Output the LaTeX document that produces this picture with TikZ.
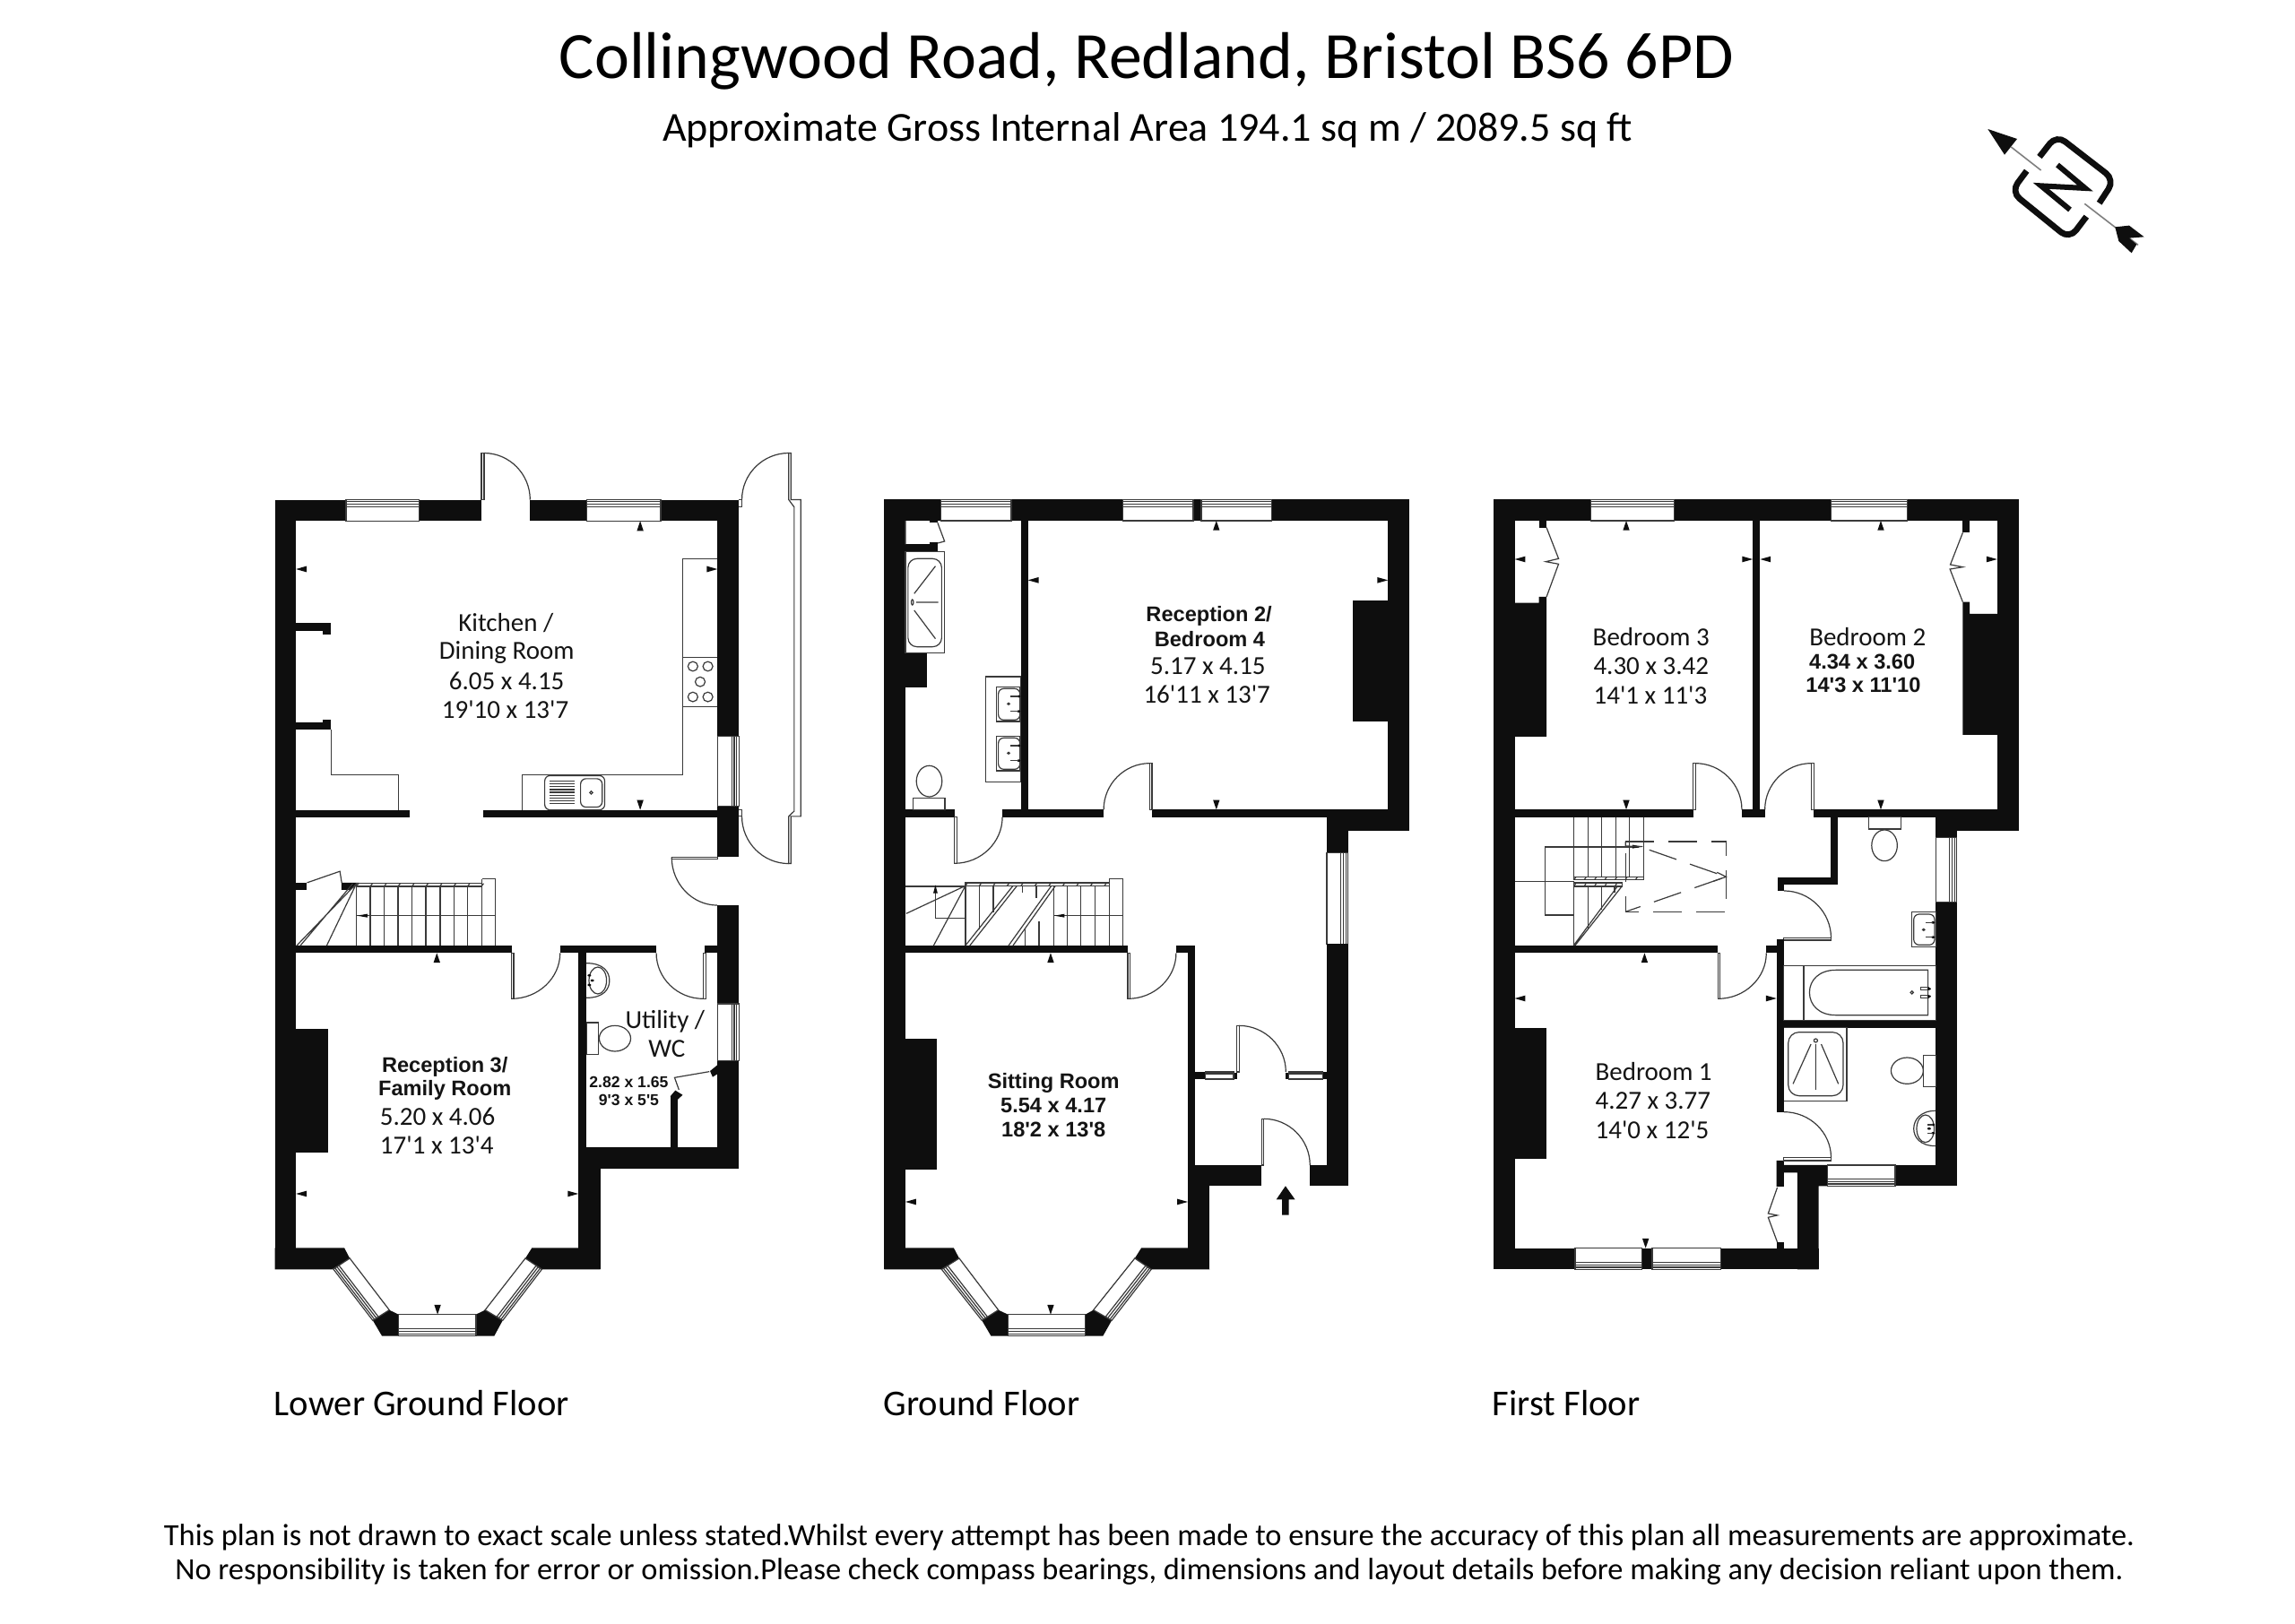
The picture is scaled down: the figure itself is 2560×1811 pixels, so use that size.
\documentclass[tikz,border=0pt]{standalone}
\usepackage{fontspec}
\usetikzlibrary{calc}
\newfontfamily\gillf{Carlito}
\newfontfamily\arialf{Liberation Sans}
\definecolor{walc}{HTML}{0E0E0E}
\definecolor{linec}{HTML}{3A3A3A}
\tikzset{
  wall/.style={fill=walc,draw=none},
  ln/.style={draw=linec,line width=.3pt},
  dsh/.style={draw=linec,line width=.3pt,dash pattern=on 8pt off 4pt},
  gilltext/.style={inner sep=0pt,font=\gillf\fontsize{7.25}{9}\selectfont,text=black!92},
  boldtext/.style={inner sep=0pt,font=\arialf\bfseries\fontsize{5.9}{7}\selectfont,text=black!92},
  smallbold/.style={inner sep=0pt,font=\arialf\bfseries\fontsize{4.4}{5}\selectfont,text=black!92},
  z1/.style={shift={(280,490)},xscale=.408,yscale=.3444},
  z2/.style={shift={(280,1000)},xscale=.408,yscale=.3333},
  z3/.style={shift={(970,540)},xscale=.408,yscale=.3333},
  z4/.style={shift={(970,1000)},xscale=.408,yscale=.3333},
  z5/.style={shift={(1650,540)},xscale=.408,yscale=.3333},
  z6/.style={shift={(1650,1000)},xscale=.408,yscale=.3333},
  z7/.style={shift={(2200,120)},scale=.3333}
}
\newcommand\wl[4]{\fill[wall] (#1,#2) rectangle (#3,#4);}
\newcommand\poly[1]{\fill[wall] #1 -- cycle;}
\newcommand\mU[2]{\fill[wall] (#1,#2) -- (#1-9,#2+32) -- (#1+9,#2+32) -- cycle;}
\newcommand\mD[2]{\fill[wall] (#1,#2) -- (#1-9,#2-32) -- (#1+9,#2-32) -- cycle;}
\newcommand\mL[2]{\fill[wall] (#1,#2) -- (#1+29,#2-10) -- (#1+29,#2+10) -- cycle;}
\newcommand\mR[2]{\fill[wall] (#1,#2) -- (#1-29,#2-10) -- (#1-29,#2+10) -- cycle;}
\newcommand\qarc[3]{\draw[ln] (#1) .. controls ($(#1)!0.55!(#2)$) and ($(#3)!0.55!(#2)$) .. (#3);}
\newcommand\winS[4]{\draw[ln] (#1) -- (#2) -- (#3) -- (#4) -- cycle;
  \draw[ln] ($(#1)!.66!(#4)$) -- ($(#2)!.66!(#3)$) -- ($(#2)!.90!(#3)$) -- ($(#1)!.90!(#4)$) -- cycle;
  \draw[ln] ($(#1)!.78!(#4)$) -- ($(#2)!.78!(#3)$);}
\newcommand\band[5]{\draw[ln] (#1,#3) rectangle (#2,#4);
  \foreach \q in {#1,#5,...,#2} {\draw[ln] (\q,#4) -- (\q+6,#3);}}
\newcommand\tp[2]{\fill[walc] (#1,#2) circle [x radius=5,y radius=4];}
\newcommand\gt[4]{\node[gilltext] (#1) at (#2,#3) {#4};}
\newcommand\bt[4]{\node[boldtext] (#1) at (#2,#3) {#4};}
\begin{document}
\begin{tikzpicture}[x=.25pt,y=-.25pt]
\fill[white] (0,0) rectangle (2560,1811);
\useasboundingbox (0,0) rectangle (2560,1811);

% ---- titles
\node[inner sep=0pt,font=\gillf\fontsize{18.45}{22}\selectfont] (title) at (1279,68) {Collingwood Road, Redland, Bristol BS6 6PD};
\node[inner sep=0pt,font=\gillf\fontsize{11.5}{14}\selectfont] (sub) at (1280,145) {Approximate Gross Internal Area 194.1 sq m / 2089.5 sq ft};
\node[inner sep=0pt,anchor=west,font=\gillf\fontsize{10.15}{13}\selectfont] (f1) at (305,1566) {Lower Ground Floor};
\node[inner sep=0pt,anchor=west,font=\gillf\fontsize{10.15}{13}\selectfont] (f2) at (985,1566) {Ground Floor};
\node[inner sep=0pt,anchor=west,font=\gillf\fontsize{10.15}{13}\selectfont] (f3) at (1664,1566) {First Floor};
\node[inner sep=0pt,font=\gillf\fontsize{8.59}{11}\selectfont] (d1) at (1282,1715) {This plan is not drawn to exact scale unless stated.Whilst every attempt has been made to ensure the accuracy of this plan all measurements are approximate.};
\node[inner sep=0pt,font=\gillf\fontsize{8.59}{11}\selectfont] (d2) at (1282,1754) {No responsibility is taken for error or omission.Please check compass bearings, dimensions and layout details before making any decision reliant upon them.};

% ---- compass
\begin{scope}[z7]
\draw[line width=1.7pt,draw=walc,rounded corners=3pt] (225,165) -- (282,92) -- (476,242) -- (425,320);
\draw[line width=1.7pt,draw=walc,rounded corners=3pt] (182,212) -- (130,282) -- (325,440) -- (382,365);
\draw[line width=1.5pt,draw=walc] (285,192) -- (378,270) -- (230,262) -- (327,342);
\draw[line width=.4pt,draw=gray] (130,132) -- (230,210);
\draw[line width=.4pt,draw=gray] (376,322) -- (555,460);
\fill[walc] (52,72) -- (150,105) -- (108,158) -- cycle;
\fill[walc] (478,400) -- (525,395) -- (575,433) -- (525,437) -- (550,458) -- (533,487) -- (490,447) -- cycle;
\end{scope}

% ================ LOWER GROUND, upper half
\begin{scope}[z1]
\wl{65}{196}{260}{265}\wl{460}{196}{630}{265}\wl{763}{196}{918}{265}\wl{1120}{196}{1334}{265}
\wl{65}{196}{123}{1568}
\wl{1275}{265}{1334}{963}\wl{1275}{1190}{1334}{1354}\wl{1275}{1510}{1334}{1568}
\wl{123}{1201}{435}{1225}\wl{636}{1201}{1275}{1225}
\wl{123}{595}{219}{620}\wl{197}{620}{219}{633}
\wl{123}{917}{219}{942}\wl{197}{908}{219}{917}
\winS{260,265}{460,265}{460,196}{260,196}
\winS{918,265}{1120,265}{1120,196}{918,196}
\winS{1275,963}{1275,1190}{1334,1190}{1334,963}
% back door
\draw[ln] (630,45) rectangle (637,196);
\qarc{637,45}{763,45}{763,196}
% counters
\draw[ln] (1275,387) -- (1180,387) -- (1180,1088) -- (742,1088) -- (742,1201);
\draw[ln] (1180,706) -- (1275,706) (1180,866) -- (1275,866);
\foreach \a/\b in {1208/736,1249/736,1228/786,1208/835,1249/835}
  {\draw[ln] (\a,\b) circle [x radius=13.5,y radius=15.5];}
\draw[ln] (219,942) -- (219,1088) -- (404,1088) -- (404,1201);
% sink
\draw[ln,rounded corners=1.5pt] (803,1090) rectangle (967,1201);
\draw[ln,rounded corners=1.5pt] (901,1100) rectangle (960,1192);
\draw[ln] (930,1145) circle [x radius=4,y radius=5];
\foreach \b in {1108,1117,1126,1135,1144,1153,1162,1171,1180}
  {\draw[ln] (817,\b) -- (885,\b);}
% lean-to
\draw[ln] (1334,196) -- (1342,196) -- (1342,220) -- (1334,220);
\draw[ln] (1334,1200) -- (1342,1200) -- (1342,1222) -- (1334,1222);
\draw[ln] (1470,45) -- (1476,45) -- (1476,196) -- (1503,196) -- (1503,1222) -- (1476,1222) -- (1476,1375) -- (1470,1375) -- (1470,1222) -- (1485,1205) -- (1485,220) -- (1470,196) -- cycle;
\qarc{1470,45}{1342,45}{1342,196}
\qarc{1342,1222}{1342,1375}{1470,1375}
% side door
\draw[ln] (1150,1354) rectangle (1275,1360);
\qarc{1150,1354}{1150,1510}{1275,1510}
% under-stairs cupboard
\wl{123}{1437}{153}{1460}
\poly{(247,1437) -- (295,1437) -- (270,1460) -- (247,1460)}
\draw[ln] (153,1437) -- (243,1400) -- (248,1437);
\mU{1064}{265}\mL{123}{421}\mR{1275}{421}\mD{1064}{1201}
\gt{k1}{697}{595}{Kitchen /}
\gt{k2}{699}{690}{Dining Room}
\gt{k3}{699}{782}{6.05 x 4.15}
\gt{k4}{695}{875}{19'10 x 13'7}
\end{scope}

% ================ LOWER GROUND, lower half
\begin{scope}[z2]
\wl{65}{0}{123}{1249}
\poly{(65,1177) -- (255,1177) -- (270,1212) -- (222,1249) -- (65,1249)}
\wl{123}{165}{712}{190}\wl{845}{165}{1108}{190}\wl{1241}{165}{1275}{190}
\wl{1275}{30}{1334}{360}\wl{1275}{550}{1334}{912}
\wl{895}{190}{917}{912}\wl{895}{840}{1334}{912}\wl{895}{900}{955}{1249}
\poly{(895,1177) -- (768,1177) -- (750,1212) -- (795,1249) -- (955,1249)}
\wl{123}{444}{211}{857}
\poly{(378,1385) -- (403,1400) -- (403,1472) -- (358,1472) -- (333,1420)}
\poly{(640,1385) -- (615,1400) -- (615,1472) -- (665,1472) -- (688,1420)}
\winS{270,1212}{378,1385}{333,1420}{225,1248}
\winS{403,1400}{615,1400}{615,1472}{403,1472}
\winS{750,1212}{640,1385}{688,1420}{795,1249}
\winS{1275,360}{1275,550}{1334,550}{1334,360}
% stairs
\band{288}{632}{-43}{-33}{326}
\foreach \a in {288,326,364,402,440,478,517,555,592,632}
  {\draw[ln] (\a,-33) -- (\a,165);}
\draw[ln] (632,-58) -- (668,-58) -- (668,165) (632,-58) -- (632,-43);
\draw[ln] (290,65) -- (668,65);
\fill[walc] (290,65) -- (318,59) -- (318,71) -- cycle;
\draw[ln] (288,-42) -- (125,165) (278,-42) -- (135,165) (288,-42) -- (207,165);
% doors
\draw[ln] (712,190) rectangle (718,343);
\qarc{712,343}{845,343}{845,190}
\draw[ln] (1236,190) rectangle (1243,343);
\qarc{1236,343}{1108,343}{1108,190}
% basin
\draw[ln] (917,224) .. controls (965,224) and (980,255) .. (980,282) .. controls (980,310) and (965,340) .. (917,340);
\draw[ln] (948,282) circle [x radius=24,y radius=45];
\tp{925}{265}\tp{925}{297}\tp{933}{282}
% wc
\draw[ln] (917,423) rectangle (950,530);
\draw[ln,fill=white] (995,476) circle [x radius=43,y radius=43];
% cupboard
\poly{(1275,565) -- (1255,585) -- (1262,605) -- (1275,595)}
\wl{1146}{670}{1167}{840}
\poly{(1146,670) -- (1160,650) -- (1180,665) -- (1167,680)}
\draw[ln] (1253,587) -- (1158,607) -- (1170,648);
\mU{508}{190}\mL{123}{996}\mR{895}{996}\mD{510}{1400}
\gt{u1}{1132}{420}{Utility /}
\gt{u2}{1137}{512}{WC}
\node[smallbold] (u3) at (1033,622) {2.82 x 1.65};
\node[smallbold] (u4) at (1033,683) {9'3 x 5'5};
\bt{r1}{530}{572}{Reception 3/}
\bt{r2}{530}{650}{Family Room}
\gt{r3}{510}{736}{5.20 x 4.06}
\gt{r4}{508}{833}{17'1 x 13'4}
\end{scope}

% ================ GROUND, upper half
\begin{scope}[z3]
\wl{40}{52}{195}{123}\wl{387}{52}{692}{123}\wl{885}{52}{907}{123}\wl{1100}{52}{1476}{123}
\wl{40}{52}{98}{1440}\wl{1417}{52}{1476}{1162}
\wl{1250}{1115}{1476}{1162}\wl{1250}{1115}{1308}{1235}
\wl{98}{1090}{232}{1115}\wl{363}{1090}{640}{1115}\wl{772}{1090}{1417}{1115}
\wl{413}{123}{433}{1090}
\wl{165}{123}{186}{130}\wl{98}{202}{186}{226}\wl{165}{196}{186}{202}
\wl{98}{565}{156}{682}\wl{1322}{390}{1417}{796}
\draw[ln] (186,130) -- (205,192) -- (186,198) (98,123) -- (98,202);
\winS{195,123}{387,123}{387,52}{195,52}
\winS{692,123}{885,123}{885,52}{692,52}
\winS{907,123}{1100,123}{1100,52}{907,52}
\winS{1250,1235}{1250,1540}{1308,1540}{1308,1235}
% shower
\draw[ln] (98,227) rectangle (204,565);
\draw[ln,rounded corners=2.5pt] (105,250) rectangle (197,545);
\draw[ln] (117,396) circle [x radius=3,y radius=9];
\draw[ln] (127,396) -- (188,396) (122,367) -- (180,275) (122,423) -- (180,518);
% basins
\draw[ln] (318,645) rectangle (413,997);
\foreach \b in {680,845}{
  \draw[ln] (347,\b) rectangle (411,\b+115);
  \draw[ln,rounded corners=1.5pt] (352,\b+5) rectangle (411,\b+110);
  \draw[ln] (380,\b+56) circle [x radius=3,y radius=3];
  \tp{408}{\b+31}\tp{408}{\b+81}
  \draw[ln] (385,\b+31) -- (408,\b+31) (385,\b+81) -- (408,\b+81);
}
% wc
\draw[ln] (119,1052) rectangle (206,1090);
\draw[ln,fill=white] (163,995) circle [x radius=35,y radius=52];
% doors
\draw[ln] (232,1115) rectangle (238,1270);
\qarc{232,1270}{363,1270}{363,1115}
\draw[ln] (766,935) rectangle (772,1090);
\qarc{766,935}{640,935}{640,1090}
\mU{948}{123}\mL{433}{322}\mR{1417}{322}\mD{948}{1090}
\bt{b1}{928}{442}{Reception 2/}
\bt{b2}{930}{520}{Bedroom 4}
\gt{b3}{925}{610}{5.17 x 4.15}
\gt{b4}{922}{705}{16'11 x 13'7}
\end{scope}

% ================ GROUND, lower half
\begin{scope}[z4]
\wl{40}{0}{98}{1249}
\wl{98}{165}{706}{190}\wl{838}{165}{890}{190}\wl{870}{190}{890}{970}
\wl{870}{900}{1072}{970}\wl{870}{900}{930}{1249}
\wl{1250}{160}{1308}{970}\wl{1204}{900}{1308}{970}
\poly{(40,1177) -- (230,1177) -- (245,1212) -- (197,1249) -- (40,1249)}
\poly{(870,1177) -- (743,1177) -- (725,1212) -- (770,1249) -- (930,1249)}
\wl{98}{476}{185}{915}
\poly{(352,1385) -- (378,1400) -- (378,1472) -- (332,1472) -- (307,1420)}
\poly{(612,1385) -- (590,1400) -- (590,1472) -- (638,1472) -- (662,1420)}
\winS{245,1212}{352,1385}{307,1420}{197,1249}
\winS{378,1400}{590,1400}{590,1472}{378,1472}
\winS{725,1212}{612,1385}{662,1420}{770,1249}
% stairs
\band{262}{655}{-45}{-35}{300}
\draw[ln] (655,-58) -- (692,-58) -- (692,165) (655,-58) -- (655,-45);
\draw[ln] (98,-33) -- (262,-33);
\draw[ln] (262,-35) -- (262,165) (300,-35) -- (300,112) (338,-35) -- (338,55);
\foreach \a in {418,456}{\draw[ln] (\a,-35) -- (\a,\a/2-222);}
\foreach \a in {425,463}{\draw[ln] (\a,400-\a*.68) -- (\a,165);}
\draw[ln] (503,-35) -- (503,165) (540,-35) -- (540,165) (578,-35) -- (578,165) (617,-35) -- (617,165);
\draw[ln] (655,-35) -- (655,165);
\draw[ln] (262,-35) -- (100,58) (262,-35) -- (175,165);
\draw[ln] (392,-35) -- (262,165) (403,-35) -- (274,165);
\draw[ln] (497,-35) -- (380,165) (508,-35) -- (392,165);
\draw[ln] (505,65) -- (692,65);
\fill[walc] (505,65) -- (533,59) -- (533,71) -- cycle;
\draw[ln] (180,-25) -- (180,73) -- (262,73);
\fill[walc] (180,-38) -- (174,-10) -- (186,-10) -- cycle;
% doors
\draw[ln] (706,190) rectangle (712,343);
\qarc{706,343}{838,343}{838,190}
\draw[ln] (1004,433) rectangle (1010,588);
\qarc{1010,433}{1138,433}{1138,588}
\draw[ln] (1072,745) rectangle (1078,900);
\qarc{1078,745}{1204,745}{1204,900}
% porch screen
\wl{890}{588}{918}{612}\wl{995}{590}{1004}{612}\wl{1138}{590}{1145}{612}\wl{1238}{588}{1250}{612}
\winS{918,612}{995,612}{995,588}{918,588}
\winS{1145,612}{1238,612}{1238,588}{1145,588}
% entry arrow
\fill[walc] (1128,1067) -- (1128,1015) -- (1112,1015) -- (1137,970) -- (1163,1015) -- (1146,1015) -- (1146,1067) -- cycle;
\mU{495}{190}\mL{98}{1023}\mR{870}{1023}\mD{495}{1400}
\bt{s1}{503}{624}{Sitting Room}
\bt{s2}{503}{702}{5.54 x 4.17}
\bt{s3}{503}{780}{18'2 x 13'8}
\end{scope}

% ================ FIRST, upper half
\begin{scope}[z5]
\wl{38}{52}{305}{123}\wl{533}{52}{961}{123}\wl{1170}{52}{1475}{123}
\wl{38}{52}{97}{1440}\wl{1416}{52}{1475}{1162}
\wl{1248}{1115}{1475}{1162}\wl{1248}{1115}{1306}{1183}
\wl{748}{123}{768}{1090}
\wl{97}{1090}{585}{1115}\wl{718}{1090}{781}{1115}\wl{915}{1090}{1416}{1115}
\wl{961}{1115}{981}{1340}\wl{815}{1316}{981}{1340}\wl{815}{1316}{833}{1362}
\wl{1248}{1400}{1306}{1440}
\wl{163}{123}{184}{146}
\poly{(97,398) -- (163,398) -- (163,378) -- (184,378) -- (184,846) -- (97,846)}
\wl{1322}{123}{1341}{163}
\poly{(1322,395) -- (1341,395) -- (1341,435) -- (1416,435) -- (1416,840) -- (1322,840)}
\draw[ln] (184,146) -- (217,250) -- (182,260) -- (217,268) -- (184,378);
\draw[ln] (1322,163) -- (1288,270) -- (1322,278) -- (1287,285) -- (1322,395);
\winS{305,123}{533,123}{533,52}{305,52}
\winS{961,123}{1170,123}{1170,52}{961,52}
\winS{1248,1183}{1248,1400}{1306,1400}{1306,1183}
% doors
\draw[ln] (585,935) rectangle (591,1090);
\qarc{591,935}{718,935}{718,1090}
\draw[ln] (908,935) rectangle (915,1090);
\qarc{908,935}{781,935}{781,1090}
\draw[ln] (833,1520) rectangle (962,1527);
\qarc{833,1362}{962,1362}{962,1520}
% wc
\draw[ln] (1065,1115) rectangle (1153,1155);
\draw[ln,fill=white] (1108,1210) circle [x radius=35,y radius=52];
% stairs
\foreach \a in {259,297,335,373,411,449}{\draw[ln] (\a,1115) -- (\a,1315);}
\draw[ln] (449,1115) -- (449,1325);
\band{259}{449}{1315}{1325}{287}
\band{259}{390}{1335}{1347}{287}
\draw[ln] (180,1215) -- (435,1215) (180,1215) -- (180,1443) -- (259,1443) (97,1330) -- (259,1330);
\fill[walc] (447,1214) -- (419,1208) -- (419,1220) -- cycle;
\draw[ln] (259,1347) -- (259,1545) (297,1347) -- (297,1490) (335,1347) -- (335,1425) (370,1347) -- (370,1368);
\draw[ln] (390,1347) -- (262,1545) (378,1347) -- (258,1545);
% dashed void
\draw[dsh] (400,1197) -- (675,1197) -- (675,1432) -- (400,1432) -- cycle;
\draw[dsh] (465,1225) -- (675,1315) -- (400,1432);
\draw[ln] (400,1197) -- (400,1212) -- (447,1214);
\draw[ln] (650,1300) -- (675,1315) -- (640,1330);
\mU{402}{123}\mL{97}{252}\mR{748}{252}\mL{768}{252}\mR{1416}{252}\mU{1098}{123}\mD{402}{1090}\mD{1098}{1090}
\gt{c1}{470}{512}{Bedroom 3}
\gt{c2}{470}{610}{4.30 x 3.42}
\gt{c3}{468}{706}{14'1 x 11'3}
\gt{c4}{1062}{512}{Bedroom 2}
\bt{c5}{1047}{595}{4.34 x 3.60}
\bt{c6}{1050}{673}{14'3 x 11'10}
\end{scope}

% ================ FIRST, lower half
\begin{scope}[z6]
\wl{38}{0}{97}{1249}\wl{38}{1178}{262}{1249}
\wl{97}{165}{653}{190}\wl{785}{165}{833}{190}
\wl{813}{145}{833}{722}\wl{833}{415}{1248}{440}
\wl{1248}{20}{1306}{970}\wl{1137}{900}{1306}{970}
\poly{(813,885) -- (833,885) -- (833,900) -- (953,900) -- (953,970) -- (928,970) -- (928,1249) -- (870,1249) -- (870,925) -- (833,925) -- (833,972) -- (813,972)}
\wl{660}{1178}{928}{1249}\wl{445}{1178}{473}{1249}
\wl{813}{1158}{833}{1178}
\wl{97}{440}{184}{880}
\draw[ln] (815,975) -- (790,1062) -- (815,1068) -- (790,1075) -- (815,1158);
\draw[ln] (653,190) rectangle (659,343);
\qarc{653,343}{785,343}{785,190}
\qarc{833,722}{962,722}{962,875}
\draw[ln] (833,875) rectangle (962,885);
\winS{953,900}{1137,900}{1137,970}{953,970}
\winS{262,1178}{445,1178}{445,1249}{262,1249}
\winS{473,1178}{660,1178}{660,1249}{473,1249}
% bath
\draw[ln] (833,232) rectangle (1248,415);
\draw[ln] (887,232) -- (887,415);
\draw[ln] (1227,247) -- (975,247) .. controls (930,247) and (903,280) .. (903,322) .. controls (903,365) and (930,398) .. (975,398) -- (1227,398) -- cycle;
\draw[ln] (1183,322) circle [x radius=4,y radius=5];
\draw[ln] (1208,305) rectangle (1230,314) (1208,331) rectangle (1230,340);
\tp{1230}{310}\tp{1230}{335}
% basin
\draw[ln] (1182,53) rectangle (1248,170);
\draw[ln,rounded corners=1.5pt] (1188,60) rectangle (1245,163);
\tp{1241}{88}\tp{1241}{137}
\draw[ln] (1220,88) -- (1241,88) (1220,137) -- (1241,137);
\draw[ln] (1215,112) circle [x radius=3,y radius=3];
% shower
\draw[ln] (833,440) -- (1005,440) -- (1005,686) -- (833,686);
\draw[ln,rounded corners=3pt] (845,455) rectangle (995,668);
\draw[ln] (920,483) circle [x radius=5,y radius=6];
\draw[ln] (907,495) -- (858,628) (920,495) -- (920,648) (935,495) -- (982,628);
% wc
\draw[ln] (1215,532) rectangle (1248,638);
\draw[ln,fill=white] (1170,584) circle [x radius=44,y radius=44];
% basin 2
\draw[ln] (1248,718) .. controls (1205,718) and (1188,750) .. (1188,778) .. controls (1188,806) and (1205,836) .. (1248,836);
\draw[ln] (1220,778) circle [x radius=24,y radius=46];
\tp{1241}{765}\tp{1241}{793}\tp{1230}{778}
\draw[ln] (1225,765) -- (1241,765) (1225,793) -- (1241,793);
\mU{452}{190}\mL{97}{342}\mR{813}{342}\mD{455}{1178}
\gt{e1}{477}{587}{Bedroom 1}
\gt{e2}{475}{685}{4.27 x 3.77}
\gt{e3}{473}{782}{14'0 x 12'5}
\end{scope}
\end{tikzpicture}
\end{document}
